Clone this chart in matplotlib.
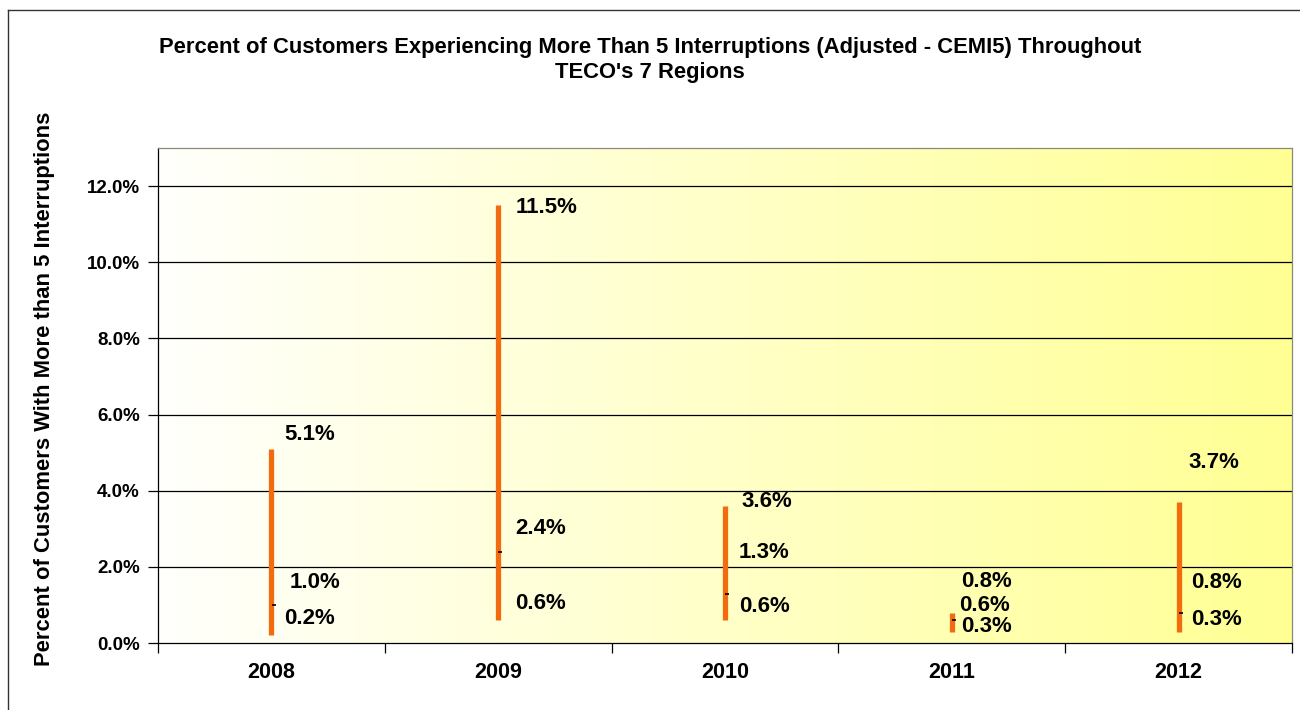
import matplotlib.pyplot as plt
import numpy as np
from matplotlib.lines import Line2D

plt.rcParams['font.family'] = ['Liberation Sans', 'DejaVu Sans']
plt.rcParams['font.weight'] = 'bold'

years = ['2008', '2009', '2010', '2011', '2012']
high = [5.1, 11.5, 3.6, 0.8, 3.7]
avg = [1.0, 2.4, 1.3, 0.6, 0.8]
low = [0.2, 0.6, 0.6, 0.3, 0.3]

# label offsets in pixels (dx, dy) for high / avg / low
off_high = [(13, 14), (17, -2), (16, 4), (9, 31), (10, 40)]
off_avg = [(18, 22), (17, 23), (14, 41), (7, 15), (13, 30)]
off_low = [(13, 17), (17, 17), (14, 14), (9, 5), (13, 12)]

fig = plt.figure(figsize=(13, 7.1), dpi=100)
ax = fig.add_axes([158/1300, 67/710, 1134/1300, 495/710])

x = np.arange(len(years))
ax.set_xlim(-0.5, 4.5)
ax.set_ylim(0, 13)

# white to yellow gradient behind the plot
grad = np.linspace(0, 1, 256)[None, :]
c0 = np.array([1.0, 1.0, 0.99])
c1 = np.array([1.0, 1.0, 0.58])
img = c0[None, None, :] * (1 - grad[..., None]) + c1[None, None, :] * grad[..., None]
ax.imshow(img, extent=(-0.5, 4.5, 0, 13), aspect='auto', zorder=0)

for yv in np.arange(2, 13, 2):
    ax.axhline(yv, color='black', lw=0.9, zorder=1)

ax.vlines(x, low, high, color='#F26B0F', lw=3.8, zorder=2)
ax.plot(x + 0.01, avg, marker='_', ls='none', color='black', ms=3, mew=1.2, zorder=3)

for i in range(len(years)):
    for val, off in ((high[i], off_high[i]), (avg[i], off_avg[i]), (low[i], off_low[i])):
        ax.annotate(f'{val:.1f}%', (x[i], val), xytext=off, textcoords='offset pixels',
                    ha='left', va='center', fontsize=16, fontweight='bold')

ax.set_yticks(np.arange(0, 13, 2))
ax.set_yticklabels([f'{v:.1f}%' for v in np.arange(0, 13, 2)], fontsize=13.5, fontweight='bold')
ax.set_xticks(x)
ax.set_xticklabels(years, fontsize=15.5, fontweight='bold')
ax.set_xticks(np.arange(-0.5, 5, 1), minor=True)
ax.tick_params(axis='x', which='major', length=0, pad=14)
ax.tick_params(axis='x', which='minor', length=7, width=0.9, direction='out')
ax.tick_params(axis='y', length=7, width=0.9, direction='out', pad=6)

for s in ['left', 'bottom']:
    ax.spines[s].set_color('black')
    ax.spines[s].set_linewidth(0.9)
for s in ['top', 'right']:
    ax.spines[s].set_color('#8a8a7a')
    ax.spines[s].set_linewidth(0.9)

fig.text(0.5, 1 - 60/710, "Percent of Customers Experiencing More Than 5 Interruptions (Adjusted - CEMI5) Throughout\nTECO's 7 Regions",
         ha='center', va='center', fontsize=15.8, fontweight='bold', linespacing=1.2)
fig.text(45/1300, 1 - 389/710, 'Percent of Customers With More than 5 Interruptions',
         rotation=90, ha='center', va='center', fontsize=15.8, fontweight='bold')

# outer chart frame
fig.add_artist(Line2D([8/1300, 8/1300], [0, 1 - 10/710], color='#333333', lw=1))
fig.add_artist(Line2D([8/1300, 1], [1 - 10/710, 1 - 10/710], color='#333333', lw=1))

fig.savefig('out.png', dpi=100)
